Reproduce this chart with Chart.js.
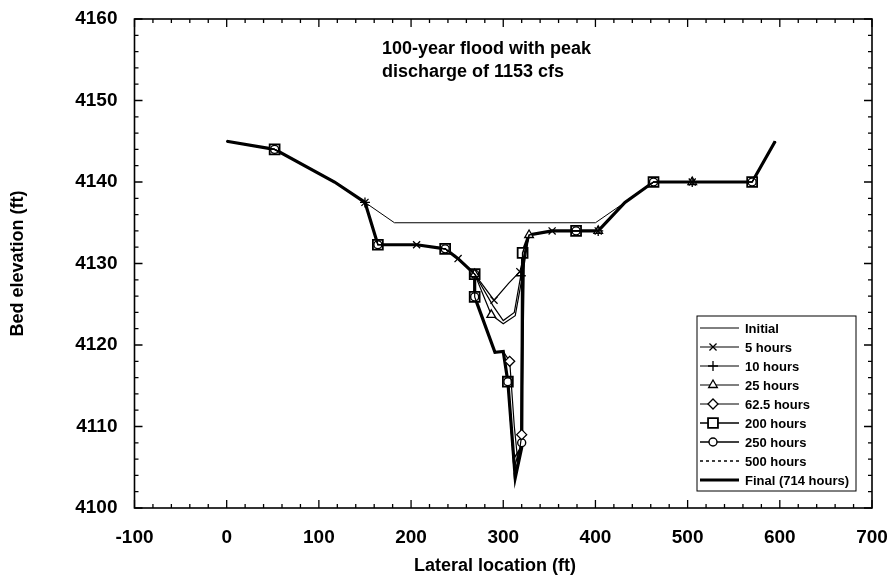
<!DOCTYPE html>
<html>
<head>
<meta charset="utf-8">
<script src="https://cdn.jsdelivr.net/npm/chart.js@4.4.1/dist/chart.umd.min.js"></script>
<style>
  html, body { margin: 0; padding: 0; background: #fff; }
  #wrap { width: 892px; height: 579px; }
</style>
</head>
<body>
<div id="wrap"><canvas id="bed-chart" width="892" height="579"></canvas></div>
<script>
// cross section, lateral location (ft) vs bed elevation (ft)
const initial = [[0,4145],[52,4144],[117,4140],[150,4137.5],[182,4135],[400,4135],[432,4137.5],[463,4140],[505,4140],[570,4140],[595,4145]];

// banks shared by every later profile
const leftBank = [[0,4145],[52,4144],[117,4140],[150,4137.5],[164,4132.3],[206,4132.3],[237,4131.8],[251,4130.6],[269,4128.7]];
const rightBank = [[328,4133.5],[353,4134],[379,4134],[403,4134],[432,4137.5],[463,4140],[505,4140],[570,4140],[595,4145]];

// channel part of each profile
const hours5 = [[290,4125.5],[306,4127.6],[318,4129]];
const hours10 = [[289,4124.8],[300,4123],[312,4124],[319,4128.5]];
const hours25 = [[287,4123.7],[300,4122.6],[313,4123.6],[320,4128]];
const hours62 = [[269,4125.9],[291,4119.1],[300,4119.2],[307,4118],[312,4110],[316,4105.5],[320,4109],[323,4131.3]];
const hours200 = [[269,4125.9],[291,4119.1],[300,4119.2],[305,4115.5],[311,4106],[319,4107.4],[321,4131.3]];
const hours250 = [[269,4125.9],[291,4119.1],[300,4119.2],[305,4115.5],[312,4105],[320,4108],[321,4131.3]];
const hours500 = [[269,4125.9],[291,4119.1],[300,4119.2],[305,4115.5],[312,4104],[320,4107.6],[321,4131.3]];
const hours714 = [[269,4125.9],[291,4119.1],[300,4119.2],[305,4115.5],[313,4103.7],[320,4107.4],[321,4131.3]];

// where each profile shows its symbol
const marks5 = [150,206,251,290,318,353,403,505];
const marks10 = [150,319,403,505];
const marks25 = [269,287,328,403,505];
const marks62 = [307,320];
const marks200 = [52,164,237,269,305,321,379,463,570];
const marks250 = [52,164,237,269,305,320,379,463,570];

const legendLabels = ['Initial','5 hours','10 hours','25 hours','62.5 hours','200 hours','250 hours','500 hours','Final (714 hours)'];

const xTicks = [-100,0,100,200,300,400,500,600,700];
const yTicks = [4100,4110,4120,4130,4140,4150,4160];

const pts = arr => arr.map(p => ({x: p[0], y: p[1]}));
const profile = ch => pts(leftBank.concat(ch, rightBank));

function marker(style, marks, r, w) {
  return {
    pointStyle: style,
    pointRadius: c => (c.raw && marks.includes(c.raw.x)) ? r : 0,
    pointBorderWidth: w,
    pointBorderColor: '#000',
    pointBackgroundColor: '#fff',
    legendRadius: r
  };
}

const datasets = [
  Object.assign({label: legendLabels[1], data: profile(hours5), borderWidth: 1.2, order: 1}, marker('crossRot', marks5, 5, 1.3)),
  Object.assign({label: legendLabels[2], data: profile(hours10), borderWidth: 1.2, order: 2}, marker('cross', marks10, 5, 1.3)),
  Object.assign({label: legendLabels[3], data: profile(hours25), borderWidth: 1.2, order: 3}, marker('triangle', marks25, 5, 1.3)),
  Object.assign({label: legendLabels[4], data: profile(hours62), borderWidth: 1.2, order: 4}, marker('rectRot', marks62, 5, 1.3)),
  Object.assign({label: legendLabels[5], data: profile(hours200), borderWidth: 1.5, order: 6}, marker('rect', marks200, 7, 1.8)),
  Object.assign({label: legendLabels[6], data: profile(hours250), borderWidth: 1.5, order: 5}, marker('circle', marks250, 4, 1.4)),
  {label: legendLabels[7], data: profile(hours500), borderWidth: 1.3, borderDash: [3,3], pointRadius: 0, order: 7},
  {label: legendLabels[8], data: profile(hours714), borderWidth: 3.2, pointRadius: 0, order: 8},
  {label: legendLabels[0], data: pts(initial), borderWidth: 1, pointRadius: 0, order: 9}
];
datasets.forEach(d => { d.borderColor = '#000'; d.tension = 0; });

const frame = {
  id: 'frame',
  afterDraw(chart) {
    const {ctx, chartArea: a, scales: {x, y}} = chart;
    ctx.save();
    ctx.strokeStyle = '#000';
    ctx.lineWidth = 1.6;
    ctx.strokeRect(a.left, a.top, a.right - a.left, a.bottom - a.top);
    ctx.lineWidth = 1.3;
    ctx.beginPath();
    for (let v = x.min; v <= x.max; v += 20) {
      const px = x.getPixelForValue(v);
      const len = v % 100 === 0 ? 8 : 4;
      ctx.moveTo(px, a.bottom); ctx.lineTo(px, a.bottom - len);
      ctx.moveTo(px, a.top); ctx.lineTo(px, a.top + len);
    }
    for (let v = y.min; v <= y.max; v += 2) {
      const py = y.getPixelForValue(v);
      const len = v % 10 === 0 ? 8 : 4;
      ctx.moveTo(a.left, py); ctx.lineTo(a.left + len, py);
      ctx.moveTo(a.right, py); ctx.lineTo(a.right - len, py);
    }
    ctx.stroke();

    ctx.fillStyle = '#000';
    ctx.textBaseline = 'middle';

    // x axis title, sits a bit left of the plot centre in the original
    ctx.font = 'bold 18px "Liberation Sans", Arial, sans-serif';
    ctx.textAlign = 'center';
    ctx.fillText('Lateral location (ft)', 495, 566);

    // heading inside the plot
    ctx.textAlign = 'left';
    ctx.fillText('100-year flood with peak', 382, 49);
    ctx.fillText('discharge of 1153 cfs', 382, 72);

    // legend box
    const bx = 697, by = 316, bw = 159, bh = 175;
    ctx.fillStyle = '#fff';
    ctx.fillRect(bx, by, bw, bh);
    ctx.lineWidth = 1;
    ctx.strokeRect(bx, by, bw, bh);
    ctx.font = 'bold 13px "Liberation Sans", Arial, sans-serif';
    const order = [8,0,1,2,3,4,5,6,7];
    order.forEach((di, i) => {
      const ds = chart.data.datasets[di];
      const ly = by + 12 + i * 19;
      ctx.save();
      ctx.strokeStyle = '#000';
      ctx.lineWidth = ds.borderWidth;
      ctx.setLineDash(ds.borderDash || []);
      ctx.beginPath();
      ctx.moveTo(bx + 3, ly); ctx.lineTo(bx + 42, ly);
      ctx.stroke();
      ctx.restore();
      if (ds.pointStyle) {
        ctx.save();
        ctx.strokeStyle = '#000';
        ctx.fillStyle = '#fff';
        ctx.lineWidth = ds.pointBorderWidth;
        Chart.helpers.drawPoint(ctx, {pointStyle: ds.pointStyle, radius: ds.legendRadius, rotation: 0, borderWidth: ds.pointBorderWidth}, bx + 16, ly);
        ctx.restore();
      }
      ctx.fillStyle = '#000';
      ctx.fillText(ds.label, bx + 48, ly + 1);
    });
    ctx.restore();
  }
};

new Chart(document.getElementById('bed-chart'), {
  type: 'line',
  data: { datasets: datasets },
  options: {
    responsive: false,
    animation: false,
    devicePixelRatio: 1,
    layout: { padding: { top: 19, right: 20, bottom: 0, left: 0 } },
    scales: {
      x: {
        type: 'linear',
        min: -100,
        max: 700,
        afterBuildTicks: s => { s.ticks = xTicks.map(v => ({value: v})); },
        afterFit: s => { s.height = 71; s.paddingLeft = 0; s.paddingRight = 0; },
        grid: { display: false, drawTicks: false },
        border: { display: false },
        ticks: { color: '#000', padding: 18, font: { size: 19, weight: 'bold' }, callback: v => v },
        title: { display: false }
      },
      y: {
        min: 4100,
        max: 4160,
        afterBuildTicks: s => { s.ticks = yTicks.map(v => ({value: v})); },
        afterFit: s => { s.width = 134.5; s.paddingTop = 0; s.paddingBottom = 0; },
        grid: { display: false, drawTicks: false },
        border: { display: false },
        ticks: { color: '#000', padding: 17, font: { size: 19, weight: 'bold' }, callback: v => v },
        title: { display: true, text: 'Bed elevation (ft)', color: '#000', font: { size: 18, weight: 'bold' }, padding: { top: 7, bottom: 0 } }
      }
    },
    plugins: {
      legend: { display: false },
      tooltip: { enabled: false }
    }
  },
  plugins: [frame]
});
</script>
</body>
</html>
